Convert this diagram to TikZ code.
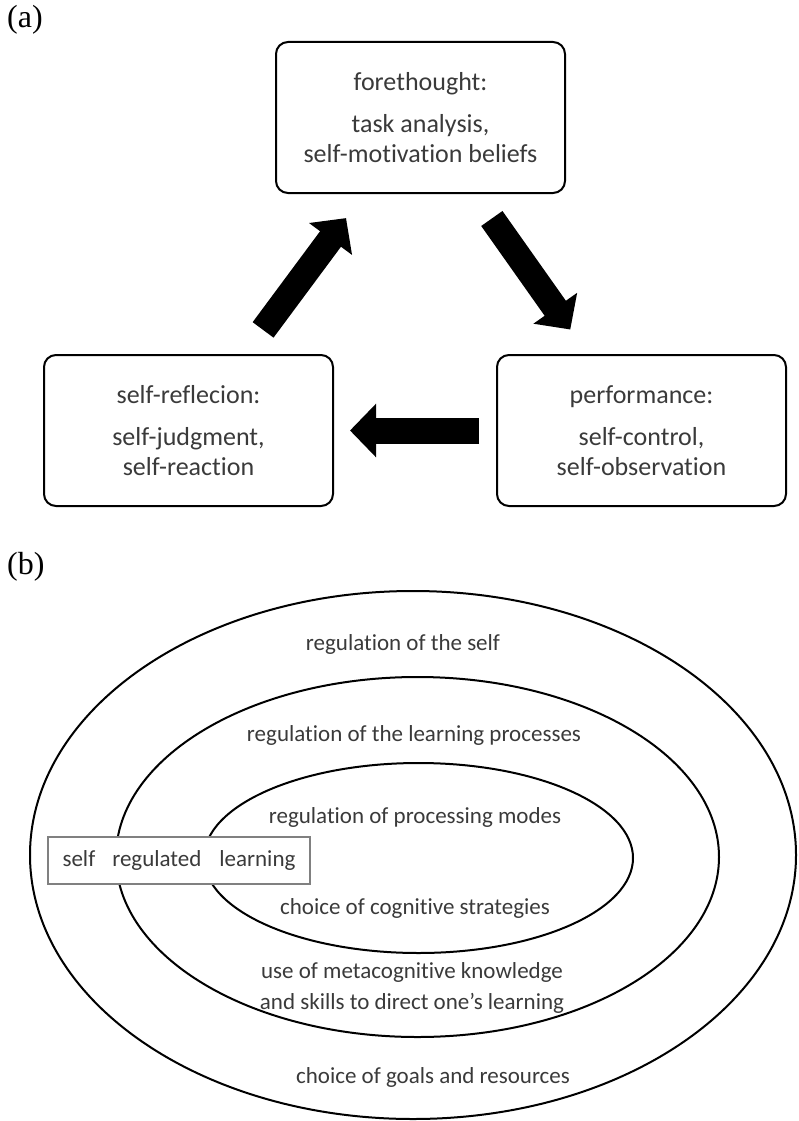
\documentclass[tikz,border=0pt]{standalone}
\usepackage{fontspec}
\setmainfont{Carlito}[Ligatures=NoCommon]
\newfontfamily\panelfont{Liberation Serif}
\usetikzlibrary{arrows.meta,positioning}
\definecolor{txtgray}{HTML}{3A3A3A}
\tikzset{
  phase/.style={draw, line width=2pt, rounded corners=12pt, minimum width=289pt,
    minimum height=151pt, align=center, text=txtgray, inner sep=0pt,
    font=\fontsize{26pt}{30pt}\selectfont},
  bigarrow/.style={line width=26pt, -{Triangle[length=26pt,width=52pt]}},
  ring/.style={line width=2pt},
  ringtext/.style={text=txtgray, anchor=base, align=center, inner sep=0pt,
    font=\fontsize{23pt}{31pt}\selectfont},
  srlbox/.style={draw=black!50, fill=white, line width=1.5pt, minimum width=262pt,
    minimum height=47pt, text=txtgray, font=\fontsize{23pt}{28pt}\selectfont},
  panel/.style={anchor=north west, inner sep=0pt, font=\panelfont\fontsize{32pt}{36pt}\selectfont},
}

\begin{document}
\begin{tikzpicture}[x=1pt,y=-1pt]
  \useasboundingbox (0,0) rectangle (798,1121);

  %(a) cycle
  \node[panel] (lbla) at (7,5) {(a)};
  \node[phase] (fore) at (420.5,117.5) {forethought:\\[12pt]task analysis,\\self-motivation beliefs};
  \node[phase] (perf) at (641.5,430.5) {performance:\\[12pt]self-control,\\self-observation};
  \node[phase] (refl) at (188.5,430.5) {self-reflecion:\\[12pt]self-judgment,\\self-reaction};
  \draw[bigarrow, shorten <=30pt, shorten >=30pt] (fore) -- (perf);
  \draw[bigarrow, shorten <=17pt, shorten >=16pt] (perf) -- (refl);
  \draw[bigarrow, shorten <=30pt, shorten >=30pt] (refl) -- (fore);

  %(b) rings
  \node[panel] (lblb) at (7,552) {(b)};
  \draw[ring] (413,855) ellipse [x radius=383pt, y radius=264pt];
  \draw[ring] (417.5,857) ellipse [x radius=301.5pt, y radius=180pt];
  \draw[ring] (418.5,858) ellipse [x radius=214.5pt, y radius=95pt];

  \node[ringtext] (self) at (403,650) {regulation of the self};
  \node[ringtext] (proc) at (414,741) {regulation of the learning processes};
  \node[ringtext] (modes) at (415,823) {regulation of processing modes};
  \node[ringtext] (strat) at (415,914) {choice of cognitive strategies};
  \node[ringtext] (meta) at (412,1009) {use of metacognitive knowledge\\and skills to direct one’s learning};
  \node[ringtext] (goals) at (433,1083) {choice of goals and resources};

  \node[srlbox] (srl) at (179,860.5) {self\hspace{17pt}regulated\hspace{18pt}learning};
\end{tikzpicture}
\end{document}
